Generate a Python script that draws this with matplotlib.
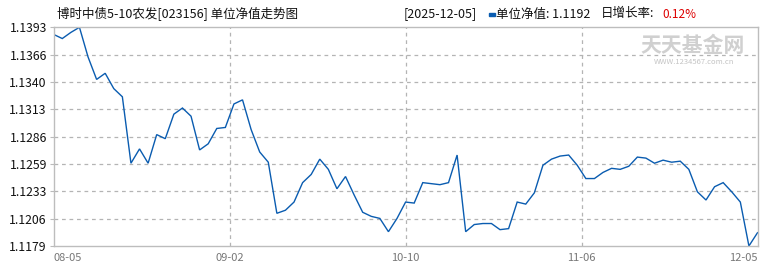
import numpy as np
import matplotlib
matplotlib.use("Agg")
import matplotlib.pyplot as plt

plt.rcParams['font.family'] = ['Noto Sans CJK SC', 'DejaVu Sans']

title = "博时中债5-10农发[023156] 单位净值走势图"
last_date = "[2025-12-05]"
last_nav = "1.1192"
daily_growth = "0.12%"

nav = [1.1386, 1.1382, 1.1388, 1.1393, 1.1364, 1.1342, 1.1348, 1.1333, 1.1325, 1.1260,
       1.1274, 1.1260, 1.1288, 1.1284, 1.1308, 1.1314, 1.1306, 1.1273, 1.1279, 1.1294,
       1.1295, 1.1318, 1.1322, 1.1293, 1.1271, 1.1261, 1.1211, 1.1214, 1.1222, 1.1241,
       1.1249, 1.1264, 1.1254, 1.1235, 1.1247, 1.1229, 1.1212, 1.1208, 1.1206, 1.1193,
       1.1206, 1.1222, 1.1221, 1.1241, 1.1240, 1.1239, 1.1241, 1.1268, 1.1193, 1.1200,
       1.1201, 1.1201, 1.1195, 1.1196, 1.1222, 1.1220, 1.1231, 1.1258, 1.1264, 1.1267,
       1.1268, 1.1258, 1.1245, 1.1245, 1.1251, 1.1255, 1.1254, 1.1257, 1.1266, 1.1265,
       1.1260, 1.1263, 1.1261, 1.1262, 1.1254, 1.1232, 1.1224, 1.1237, 1.1241, 1.1232,
       1.1222, 1.1179, 1.1192]

x_tick_labels = ["08-05", "09-02", "10-10", "11-06", "12-05"]
y_tick_labels = ["1.1179", "1.1206", "1.1233", "1.1259", "1.1286",
                 "1.1313", "1.1340", "1.1366", "1.1393"]

W, H = 770, 270
fig = plt.figure(figsize=(W / 100, H / 100), dpi=100)
fig.patch.set_facecolor("white")

left, right, top, bottom = 53.7, 757.5, 27.3, 246.0
ax = fig.add_axes([left / W, 1 - bottom / H, (right - left) / W, (bottom - top) / H])

x = np.arange(len(nav))
ax.plot(x, nav, color="#0a5cb0", lw=1.0, solid_joinstyle="miter")

ymin, ymax = min(nav), max(nav)
ax.set_xlim(0, len(nav) - 1)
ax.set_ylim(ymin, ymax)

yt = np.linspace(ymin, ymax, len(y_tick_labels))
ax.set_yticks(yt)
ax.set_yticklabels(y_tick_labels, fontsize=8.8, color="#111111")
xt = np.linspace(0, len(nav) - 1, len(x_tick_labels))
ax.set_xticks(xt)
ax.set_xticklabels(x_tick_labels, fontsize=8, color="#777777")
ax.get_xticklabels()[0].set_ha("left")
ax.get_xticklabels()[-1].set_ha("right")

ax.tick_params(axis="y", length=3, width=0.8, color="#bbbbbb", pad=2)
ax.tick_params(axis="x", length=0, pad=5)

for v in yt[1:-1]:
    ax.axhline(v, color="#b4b4b4", lw=0.9, ls=(0, (3, 3)), zorder=0)
for v in xt[1:-1]:
    ax.axvline(v, color="#b4b4b4", lw=0.9, ls=(0, (3, 3)), zorder=0)

for s in ax.spines.values():
    s.set_color("#bdbdbd")
    s.set_linewidth(1.0)

# watermark
fig.text(693 / W, 1 - 46 / H, "天天基金网", fontsize=15, color="#d0d0d0",
         ha="center", va="center", fontweight="bold")
fig.text(694 / W, 1 - 62 / H, "WWW.1234567.com.cn", fontsize=5.5, color="#c4c4c4",
         ha="center", va="center")

# header
fig.text(57 / W, 1 - 14 / H, title, fontsize=9, color="#111111", ha="left", va="center")
fig.text(404 / W, 1 - 14 / H, last_date, fontsize=9, color="#111111", ha="left", va="center")
fig.patches.append(plt.Rectangle((489 / W, 1 - 16 / H), 6 / W, 3 / H,
                                 transform=fig.transFigure, color="#0a5cb0", figure=fig))
fig.text(496 / W, 1 - 14 / H, "单位净值: " + last_nav, fontsize=9, color="#111111",
         ha="left", va="center")
fig.text(601 / W, 1 - 14 / H, "日增长率:", fontsize=9, color="#111111", ha="left", va="center")
fig.text(662 / W, 1 - 14 / H, daily_growth, fontsize=8.5, color="#dd0000", ha="left", va="center")

fig.savefig("out.png", dpi=100, facecolor="white")
